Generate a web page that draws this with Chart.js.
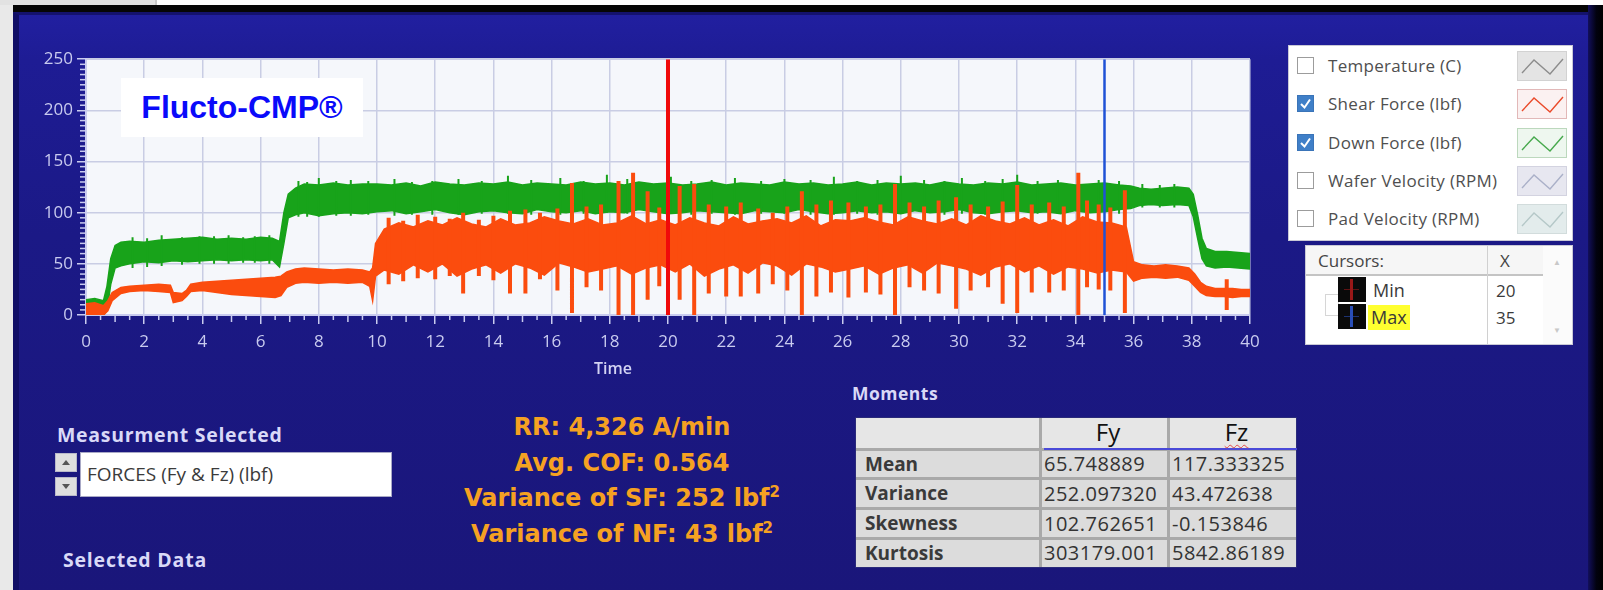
<!DOCTYPE html>
<html><head><meta charset="utf-8">
<script src="https://cdn.jsdelivr.net/npm/chart.js@4.4.1/dist/chart.umd.min.js"></script>
<style>
html,body{margin:0;padding:0;width:1603px;height:590px;overflow:hidden;background:#e9e9e9;font-family:"Open Sans",sans-serif;}
.abs{position:absolute;}
#topwhite{left:157px;top:0;width:1446px;height:5px;background:#fff;}
#topgray{left:0;top:0;width:155px;height:5px;background:#e2e2e2;border-right:2px solid #c9c9c9;}
#blackbar{left:13px;top:5px;width:1590px;height:7px;background:#060606;}
#panel{left:13px;top:12px;width:1577px;height:578px;box-sizing:border-box;border-left:6px solid #100e66;border-top:3px solid #14126e;
 background:linear-gradient(180deg,#211fa0 0px,#1e1c94 45px,#1b1986 220px,#1a167a 578px);}
#rightedge{left:1588px;top:5px;width:15px;height:585px;background:linear-gradient(90deg,#120f5c,#020210 55%,#000);}
.lav{color:#d9d9f7;font-weight:700;white-space:nowrap;}
#legend{left:1288px;top:45px;width:285px;height:196px;background:#fff;border:1px solid #c9c9d6;box-sizing:border-box;}
.item{position:absolute;left:0;width:283px;height:30px;}
.cb{position:absolute;left:8px;top:6px;width:17px;height:17px;box-sizing:border-box;border:1px solid #9c9c9c;background:#fff;}
.cb.on{background:#3f7fc8;border-color:#3a74b8;}
.ilabel{position:absolute;left:39px;top:0;line-height:30px;font-size:17px;letter-spacing:0.3px;color:#4f4f4f;white-space:nowrap;}
.icon{position:absolute;left:228px;top:0;width:50px;height:30px;box-sizing:border-box;}
#cursors{left:1305px;top:245px;width:268px;height:100px;background:#fff;border:1px solid #c9c9d6;box-sizing:border-box;}
#orange{left:422px;top:410px;width:400px;text-align:center;font-family:"DejaVu Sans",sans-serif;font-weight:700;font-size:24px;color:#f5a122;}
#orange div{height:35.5px;line-height:35.5px;white-space:nowrap;}
#moments{left:855px;top:417px;width:442px;height:151px;background:#dcdcdc;box-sizing:border-box;border:1px solid #2a2a7a;}
.cell{position:absolute;box-sizing:border-box;white-space:nowrap;color:#333;}
</style></head>
<body>
<div class="abs" id="topgray"></div>
<div class="abs" id="topwhite"></div>
<div class="abs" id="blackbar"></div>
<div class="abs" id="panel"></div>
<div class="abs" id="rightedge"></div>

<canvas id="c" width="1250" height="330" style="position:absolute;left:20px;top:45px"></canvas>

<div class="abs" style="left:121px;top:78px;width:242px;height:59px;background:#fff;text-align:center;line-height:59px;font-family:'Liberation Sans',Arial,sans-serif;font-weight:700;font-size:32px;color:#0a0afa;">Flucto-CMP®</div>
<div class="abs lav" id="xtitle" style="left:563px;top:357px;width:100px;text-align:center;font-size:16px;font-weight:600;color:#d3d3f3;">Time</div>

<div class="abs" id="legend"></div>
<div class="abs" id="cursors"></div>

<div class="abs lav" style="left:57px;top:421px;font-size:19.5px;letter-spacing:0.7px;line-height:28px;">Measurment Selected</div>
<div class="abs" style="left:55px;top:453px;width:22px;height:19px;background:#dedede;border:1px solid #b9b9c9;box-sizing:border-box;"><svg width="20" height="17"><path d="M6 11 L10 6 L14 11 Z" fill="#555"/></svg></div>
<div class="abs" style="left:55px;top:477px;width:22px;height:19px;background:#dedede;border:1px solid #b9b9c9;box-sizing:border-box;"><svg width="20" height="17"><path d="M6 6 L10 11 L14 6 Z" fill="#555"/></svg></div>
<div class="abs" id="measbox" style="left:80px;top:452px;width:312px;height:45px;background:#fff;border:1px solid #a9a9c6;box-sizing:border-box;font-size:19px;color:#3b3b3b;line-height:43px;padding-left:6px;"></div>
<div class="abs lav" style="left:63px;top:546px;font-size:19.5px;letter-spacing:0.8px;line-height:28px;">Selected Data</div>

<div class="abs" id="orange"></div>

<div class="abs lav" style="left:852px;top:381px;font-size:17.5px;letter-spacing:0.5px;line-height:24px;">Moments</div>
<div class="abs" id="moments"></div>

<script>
// ---------------- DATA ----------------
const xTickLabels = [0,2,4,6,8,10,12,14,16,18,20,22,24,26,28,30,32,34,36,38,40];
const yTickLabels = [0,50,100,150,200,250];

// Down Force (Fz, green) band: time, lower edge, upper edge
const fzTime = [0,0.3,0.6,0.72,0.85,1.0,1.2,1.5,2,2.5,3,3.5,4,4.5,5,5.5,6,6.4,6.65,6.8,6.95,7.2,7.5,8,8.5,9,9.5,
  10,10.5,11,11.5,12,12.5,13,13.5,14,14.5,15,15.5,16,16.5,17,17.5,18,18.5,19,19.5,20,20.5,21,21.5,22,22.5,23,23.5,24,24.5,25,25.5,26,26.5,27,27.5,28,28.5,29,29.5,30,30.5,31,31.5,32,32.5,33,33.5,34,34.5,35,35.5,35.9,
  36.2,36.6,37,37.5,37.9,38.05,38.2,38.35,38.5,38.8,39.2,39.6,40];
const fzLow = [0,0,0,4,30,46,48,50,52,51,53,52,53,54,53,54,53,54,47,70,95,98,100,97,99,100,99,
  101,102,99,101,103,100,98,101,102,100,99,103,101,100,102,99,101,100,103,101,99,100,102,101,100,99,102,101,100,103,
  101,99,100,102,100,101,99,102,100,101,103,100,99,101,102,100,101,99,102,100,101,103,104,
  107,108,107,108,107,96,75,55,48,46,47,46,45];
const fzHigh = [15,16,14,28,55,68,71,72,71,73,74,75,76,74,75,74,76,75,72,100,118,124,128,127,129,127,128,
  128,127,129,126,130,128,127,129,128,130,127,129,128,127,130,128,129,127,130,128,129,127,128,130,127,129,128,127,130,128,
  129,127,128,130,127,129,128,129,127,130,128,127,129,128,130,127,128,129,127,128,129,127,126,
  124,123,124,125,124,118,98,75,65,62,62,61,60];
// short excursions of the green trace
const fzSpikeTime = [1.6,2.1,2.6,3.3,3.9,4.4,4.9,5.4,5.8,6.3,7.3,7.6,8.0,8.6,9.1,9.7,10.6,11.2,11.9,12.8,13.6,14.5,15.3,16.3,17.1,17.9,18.6,
  20.1,20.8,21.5,22.3,23.2,24.0,24.9,25.7,26.5,27.2,28.0,28.8,29.5,30.1,30.9,31.5,32.0,32.7,33.4,34.1,34.8,35.5,36.3,36.9,37.4];
const fzSpikeLow  = [46,47,48,49,50,50,50,51,51,50,96,96,96,97,97,98,97,98,98,98,99,99,98,98,99,100,99,
  99,98,99,98,99,99,98,98,99,98,100,99,98,99,98,99,98,99,99,99,100,99,105,105,105];
const fzSpikeHigh = [76,75,78,76,77,77,78,76,77,78,131,130,134,131,132,131,133,130,131,133,131,136,132,134,131,137,133,
  135,131,132,134,131,133,132,135,131,132,136,132,131,134,131,133,137,131,132,135,132,131,128,127,128];

// Shear Force (Fy, orange) band: time, lower edge, upper edge
const fyTime = [0,0.3,0.6,0.75,0.9,1.2,1.5,2,2.5,2.9,3.0,3.3,3.45,3.6,4,4.5,5,5.5,6,6.5,6.7,6.9,7.2,7.5,8,8.5,9,9.5,9.75,9.85,9.95,
  10.25,10.75,11.25,11.75,12.25,12.75,13.25,13.75,14.25,14.75,15.25,15.75,16.25,16.75,17.25,17.75,18.25,18.75,19.25,19.75,
  20.25,20.75,21.25,21.75,22.25,22.75,23.25,23.75,24.25,24.75,25.25,25.75,26.25,26.75,27.25,27.75,28.25,28.75,29.25,29.75,
  30.25,30.75,31.25,31.75,32.25,32.75,33.25,33.75,34.25,34.75,35.25,35.75,
  36.0,36.3,36.7,37.1,37.5,37.9,38.1,38.3,38.5,38.8,39.1,39.4,39.7,40];
const fyLow = [0,0,0,4,14,21,23,24,23,22,12,14,18,23,24,22,20,19,18,17,19,27,31,32,31,32,31,32,28,14,38,
  44,40,49,42,50,38,45,49,41,50,46,39,51,47,42,45,48,40,46,49,
  42,50,38,45,49,41,51,48,39,50,47,42,45,48,40,46,49,41,51,48,
  45,39,47,50,42,48,40,47,45,41,44,42,
  33,36,37,36,37,34,28,22,19,18,18,17,18,18];
const fyHigh = [11,12,9,14,22,27,28,29,30,29,22,21,24,30,32,33,34,35,36,37,38,42,45,46,45,44,45,44,42,46,70,
  84,90,86,92,88,95,89,86,94,88,90,96,92,89,94,88,90,97,89,93,
  88,95,90,87,96,89,92,94,90,97,87,93,92,95,91,88,96,92,89,94,
  88,97,92,89,95,88,93,87,96,91,90,86,
  52,49,48,49,48,46,40,32,28,26,26,26,25,25];
// vertical bursts of the orange trace
const fySpikeTime = [10.4,10.9,11.4,12.0,12.5,12.96,13.5,14.0,14.57,15.1,15.6,16.2,16.7,17.2,17.7,18.3,18.8,19.3,19.7,
  20.4,20.9,21.4,22.0,22.5,23.1,23.6,24.1,24.6,25.1,25.6,26.2,26.8,27.3,27.8,28.3,28.8,29.3,29.9,
  30.4,31.0,31.5,32.0,32.5,33.1,33.6,34.1,34.4,34.8,35.2,35.7,39.2];
const fySpikeLow  = [30,33,36,35,38,21,38,34,21,21,35,24,2,27,24,0,0,15,28,
  15,0,21,18,18,21,30,24,0,18,22,17,22,20,0,27,24,21,6,
  24,27,11,2,22,22,24,0,27,25,24,2,5];
const fySpikeHigh = [95,92,98,96,94,100,93,97,102,103,100,104,129,106,108,131,139,121,105,
  126,128,108,106,110,104,100,106,121,108,112,110,106,108,128,110,106,112,115,
  108,106,111,127,108,110,106,139,112,108,105,122,35];

// cursors
const cursorNames = ['Min','Max'];
const cursorX = [20,35];

// right-hand legend
const legendLabels = ['Temperature (C)','Shear Force (lbf)','Down Force (lbf)','Wafer Velocity (RPM)','Pad Velocity (RPM)'];
const legendChecked = [false,true,true,false,false];

// text panels
const measurement = 'FORCES (Fy & Fz) (lbf)';
const statLines = ['RR: 4,326 A/min','Avg. COF: 0.564','Variance of SF: 252 lbf²','Variance of NF: 43 lbf²'];
const momentCols = ['Fy','Fz'];
const momentRows = ['Mean','Variance','Skewness','Kurtosis'];
const momentFy = ['65.748889','252.097320','102.762651','303179.001'];
const momentFz = ['117.333325','43.472638','-0.153846','5842.86189'];

// ---------------- STYLE ----------------
const GREEN = '#18a31a', ORANGE = '#fb4c0e', LAV = '#c9cbef', GRID = '#c9cde4';
const legendStyle = [
  {bg:'#e4e4e4',bd:'#d2d2d2',ln:'#8c8c8c'},
  {bg:'#fbf1f1',bd:'#e2b8b8',ln:'#ea4a2a'},
  {bg:'#eef7ef',bd:'#bcd8bd',ln:'#47a94d'},
  {bg:'#e7e7f0',bd:'#d3d3e0',ln:'#aab0c8'},
  {bg:'#e3ecec',bd:'#d2dcdc',ln:'#b5c8c8'}
];

// ---------------- PANELS ----------------
const lg = document.getElementById('legend');
legendLabels.forEach((lab,i)=>{
  const d = document.createElement('div');
  d.className='item'; d.style.top = (5 + i*38.3)+'px';
  const s = legendStyle[i];
  d.innerHTML = '<div class="cb'+(legendChecked[i]?' on':'')+'">'+(legendChecked[i]?'<svg width="15" height="15" style="position:absolute;left:0;top:0"><path d="M3 8 L6.5 11.5 L12 3.5" stroke="#fff" stroke-width="2" fill="none"/></svg>':'')+'</div>'+
    '<div class="ilabel">'+lab+'</div>'+
    '<div class="icon" style="background:'+s.bg+';border:1px solid '+s.bd+'"><svg width="48" height="28"><polyline points="4,21 16,8 32,22 45,7" fill="none" stroke="'+s.ln+'" stroke-width="1.4"/></svg></div>';
  lg.appendChild(d);
});

const cu = document.getElementById('cursors');
let ch = '<div class="cell" style="left:0;top:0;width:237px;height:30px;background:#f6f6f6;border-bottom:2px solid #c4c4c4"></div>'+
  '<div class="cell" style="left:12px;top:0;line-height:30px;font-size:17px;color:#444">Cursors:</div>'+
  '<div class="cell" style="left:181px;top:0;width:1px;height:98px;background:#d0d0d0"></div>'+
  '<div class="cell" style="left:194px;top:0;line-height:30px;font-size:17px;color:#444">X</div>'+
  '<div class="cell" style="left:237px;top:0;width:29px;height:98px;background:#fbfbfb"></div>'+
  '<div class="cell" style="left:247px;top:10px;font-size:8px;color:#c8c8c8">▲</div>'+
  '<div class="cell" style="left:247px;top:78px;font-size:8px;color:#c8c8c8">▼</div>'+
  '<div class="cell" style="left:19px;top:48px;width:14px;height:22px;border:1px solid #d6d6d6"></div>';
cursorNames.forEach((n,i)=>{
  const top = 30 + i*27;
  const lc = i===0 ? '#9a1818' : '#2a4fb8';
  ch += '<div class="cell" style="left:32px;top:'+(top+1)+'px;width:28px;height:25px;background:#0a0a0a"><div style="position:absolute;left:12px;top:2px;width:3px;height:21px;background:'+lc+'"></div><div style="position:absolute;left:6px;top:12px;width:15px;height:1px;background:'+lc+';opacity:.6"></div></div>';
  ch += '<div class="cell" style="left:'+(i===1?62:64)+'px;top:'+(top+2)+'px;height:25px;line-height:25px;padding:0 3px;font-size:18px;color:#3a3a3a;'+(i===1?'background:#ffff30;':'')+'">'+n+'</div>';
  ch += '<div class="cell" style="left:190px;top:'+(top+2)+'px;line-height:25px;font-size:17px;color:#3a3a3a">'+cursorX[i]+'</div>';
});
cu.innerHTML = ch;

document.getElementById('measbox').textContent = measurement;
document.getElementById('orange').innerHTML = statLines.map(s=>'<div>'+s.replace('²','<sup style="font-size:15px;line-height:0;vertical-align:9px">2</sup>')+'</div>').join('');

const mo = document.getElementById('moments');
const colX = [0,184,312,441], rowY = [0,31,60,90,120,149];
let mh = '<div class="cell" style="left:0;top:0;width:440px;height:31px;background:#e6e6e6"></div>';
for (let c=1;c<3;c++) mh += '<div class="cell" style="left:'+(colX[c]-1)+'px;top:0;width:3px;height:149px;background:#a9a9a9"></div>';
for (let r=1;r<5;r++) mh += '<div class="cell" style="left:0;top:'+(rowY[r]-1)+'px;width:440px;height:3px;background:#a9a9a9"></div>';
mh += '<div class="cell" style="left:188px;top:'+(rowY[1]-1)+'px;width:253px;height:2px;background:#4a4ad8"></div>';
momentCols.forEach((c,i)=>{
  mh += '<div class="cell" style="left:'+(colX[i+1]+4)+'px;top:-3px;width:'+(colX[i+2]-colX[i+1])+'px;text-align:center;font-size:24px;line-height:34px;color:#111;'+(i===1?'text-decoration:underline wavy #e04848;text-decoration-thickness:1px;text-underline-offset:3px;':'')+'">'+c+'</div>';
});
momentRows.forEach((r,i)=>{
  const y = rowY[i+1]+1, h = rowY[i+2]-rowY[i+1]-1;
  mh += '<div class="cell" style="left:9px;top:'+y+'px;line-height:'+h+'px;font-size:19px;font-weight:700;color:#3a3a3a">'+r+'</div>';
  mh += '<div class="cell" style="left:'+(colX[1]+4)+'px;top:'+y+'px;line-height:'+h+'px;font-size:20px;letter-spacing:0.5px;color:#333">'+momentFy[i]+'</div>';
  mh += '<div class="cell" style="left:'+(colX[2]+4)+'px;top:'+y+'px;line-height:'+h+'px;font-size:20px;letter-spacing:0.5px;color:#333">'+momentFz[i]+'</div>';
});
mo.innerHTML = mh;

// ---------------- CHART ----------------
const pts = (ts, vs) => ts.map((t,i)=>({x:t,y:vs[i]}));
const bars = (ts, lo, hi) => { const out=[]; ts.forEach((t,i)=>{ out.push({x:t,y:lo[i]},{x:t,y:hi[i]},{x:t,y:null}); }); return out; };

const plotBg = { id:'plotBg', beforeDraw(chart){ const {ctx,chartArea:a}=chart; ctx.save(); ctx.fillStyle='#f5f7fb'; ctx.fillRect(a.left,a.top,a.right-a.left,a.bottom-a.top); ctx.restore(); } };
const minorTicks = { id:'minorTicks', afterDraw(chart){
  const {ctx,chartArea:a,scales:{x,y}}=chart; ctx.save(); ctx.strokeStyle=LAV; ctx.lineWidth=1.5;
  for (let i=1;i<80;i++){ if(i%4===0) continue; const px=x.getPixelForValue(i/2); ctx.beginPath(); ctx.moveTo(px,a.bottom); ctx.lineTo(px,a.bottom+(i%2===0?7:5)); ctx.stroke(); }
  for (let i=1;i<50;i++){ if(i%10===0) continue; const py=y.getPixelForValue(i*5); ctx.beginPath(); ctx.moveTo(a.left-6,py); ctx.lineTo(a.left-1,py); ctx.stroke(); }
  ctx.restore(); } };

const ds = [];
// cursors (drawn on top)
cursorX.forEach((cx,i)=>ds.push({data:[{x:cx,y:0},{x:cx,y:250}], borderColor:i===0?'#f00a0a':'#1f52d6', borderWidth:i===0?4:2.5, order:0, fill:false}));
// fy bursts
ds.push({data:bars(fySpikeTime,fySpikeLow,fySpikeHigh), borderColor:ORANGE, borderWidth:4, spanGaps:false, fill:false, order:1});
// fy band
ds.push({data:pts(fyTime,fyLow), borderColor:ORANGE, borderWidth:1.5, fill:false, order:2});
ds.push({data:pts(fyTime,fyHigh), borderColor:ORANGE, borderWidth:1.5, backgroundColor:ORANGE, fill:'-1', order:2});
// fz excursions
ds.push({data:bars(fzSpikeTime,fzSpikeLow,fzSpikeHigh), borderColor:GREEN, borderWidth:2, spanGaps:false, fill:false, order:3});
// fz band
ds.push({data:pts(fzTime,fzLow), borderColor:GREEN, borderWidth:1.5, fill:false, order:4});
ds.push({data:pts(fzTime,fzHigh), borderColor:GREEN, borderWidth:1.5, backgroundColor:GREEN, fill:'-1', order:4});

Chart.defaults.font.family = "'Open Sans', sans-serif";
new Chart(document.getElementById('c'), {
  type:'line',
  data:{datasets:ds},
  options:{
    responsive:false, animation:false, events:[],
    layout:{padding:{left:0,top:12,right:20,bottom:0}},
    elements:{point:{radius:0}, line:{tension:0}},
    plugins:{legend:{display:false}, tooltip:{enabled:false}},
    scales:{
      x:{type:'linear', min:0, max:40,
        afterFit(s){ s.height = 60; },
        afterBuildTicks(s){ s.ticks = xTickLabels.map(v=>({value:v})); },
        ticks:{color:LAV, font:{size:17}, padding:8, maxRotation:0, autoSkip:false},
        grid:{color:GRID, lineWidth:1.5, tickColor:LAV, tickLength:9, tickWidth:1.5},
        border:{color:LAV, width:2}},
      y:{type:'linear', min:0, max:250,
        afterFit(s){ s.width = 66; },
        afterBuildTicks(s){ s.ticks = yTickLabels.map(v=>({value:v})); },
        ticks:{color:LAV, font:{size:17}, padding:4},
        grid:{color:GRID, lineWidth:1.5, tickColor:LAV, tickLength:9, tickWidth:1.5},
        border:{color:LAV, width:2}}
    }
  },
  plugins:[plotBg, minorTicks]
});
</script>
</body></html>
